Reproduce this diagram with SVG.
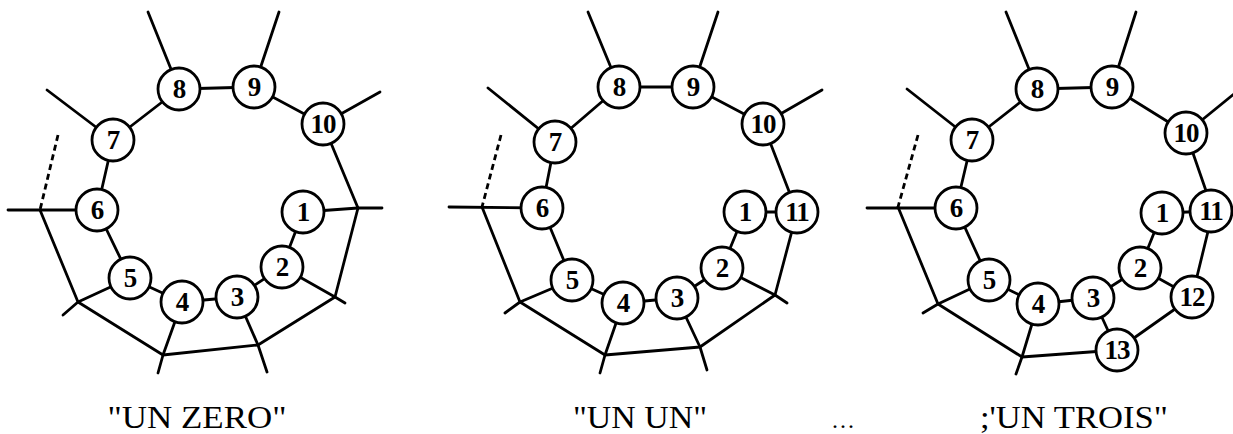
<svg xmlns="http://www.w3.org/2000/svg" width="1233" height="434" viewBox="0 0 1233 434">
<style>
.e{stroke:#000;stroke-width:2.8;fill:none;stroke-linecap:round;stroke-linejoin:round}
.d{stroke:#000;stroke-width:2.8;fill:none;stroke-dasharray:6 4}
.n circle{fill:#fff;stroke:#000;stroke-width:2.8}
.n text{font-family:"Liberation Serif","Times New Roman",serif;font-weight:bold;font-size:27px;text-anchor:middle;letter-spacing:-1px}
.cap{font-family:"Liberation Serif","Times New Roman",serif;font-size:31px;text-anchor:middle}
</style>
<rect width="1233" height="434" fill="#fff"/>

<!-- Diagram 1 connectors -->
<g id="connectors-1">
<polyline class="e" points="97,210 113,140 179,89 254,87 323,124 358,208 382,208"/>
<line class="e" x1="303" y1="212" x2="358" y2="208"/>
<polyline class="e" points="97,210 130,278 182,302 237,297 282,267 303,212"/>
<line class="e" x1="179" y1="89" x2="148" y2="12"/>
<line class="e" x1="254" y1="87" x2="279" y2="12"/>
<line class="e" x1="113" y1="140" x2="47" y2="90"/>
<line class="e" x1="323" y1="124" x2="380" y2="92"/>
<line class="e" x1="8" y1="210" x2="97" y2="210"/>
<line class="d" x1="58" y1="135" x2="40" y2="210"/>
<polyline class="e" points="40,210 78,302 163,355 258,345 335,297 358,208"/>
<polyline class="e" points="63,315 78,302 130,278"/>
<polyline class="e" points="158,373 163,355 182,302"/>
<polyline class="e" points="267,372 258,345 237,297"/>
<polyline class="e" points="345,303 335,297 282,267"/>
</g>
<g id="d1-n1" class="n"><circle cx="303" cy="212" r="21"/><text x="303" y="221">1</text></g>
<g id="d1-n2" class="n"><circle cx="282" cy="267" r="21"/><text x="282" y="276">2</text></g>
<g id="d1-n3" class="n"><circle cx="237" cy="297" r="21"/><text x="237" y="306">3</text></g>
<g id="d1-n4" class="n"><circle cx="182" cy="302" r="21"/><text x="182" y="311">4</text></g>
<g id="d1-n5" class="n"><circle cx="130" cy="278" r="21"/><text x="130" y="287">5</text></g>
<g id="d1-n6" class="n"><circle cx="97" cy="210" r="21"/><text x="97" y="219">6</text></g>
<g id="d1-n7" class="n"><circle cx="113" cy="140" r="21"/><text x="113" y="149">7</text></g>
<g id="d1-n8" class="n"><circle cx="179" cy="89" r="21"/><text x="179" y="98">8</text></g>
<g id="d1-n9" class="n"><circle cx="254" cy="87" r="21"/><text x="254" y="96">9</text></g>
<g id="d1-n10" class="n"><circle cx="323" cy="124" r="21"/><text x="323" y="133">10</text></g>
<text class="cap" x="197" y="428" textLength="179" lengthAdjust="spacingAndGlyphs">"UN ZERO"</text>

<!-- Diagram 2 connectors -->
<g id="connectors-2">
<polyline class="e" points="542,208 555,142 619,87 693,87 763,124 797,212"/>
<line class="e" x1="745" y1="212" x2="797" y2="212"/>
<polyline class="e" points="542,208 572,280 623,303 677,298 722,268 745,212"/>
<line class="e" x1="619" y1="87" x2="588" y2="12"/>
<line class="e" x1="693" y1="87" x2="718" y2="12"/>
<line class="e" x1="555" y1="142" x2="488" y2="88"/>
<line class="e" x1="763" y1="124" x2="822" y2="90"/>
<line class="e" x1="449" y1="207" x2="542" y2="208"/>
<line class="d" x1="501" y1="135" x2="482" y2="207"/>
<polyline class="e" points="482,207 520,302 605,355 700,347 775,295 797,212"/>
<polyline class="e" points="505,313 520,302 572,280"/>
<polyline class="e" points="600,373 605,355 623,303"/>
<polyline class="e" points="707,370 700,347 677,298"/>
<polyline class="e" points="787,303 775,295 722,268"/>
</g>
<g id="d2-n1" class="n"><circle cx="745" cy="212" r="21"/><text x="745" y="221">1</text></g>
<g id="d2-n2" class="n"><circle cx="722" cy="268" r="21"/><text x="722" y="277">2</text></g>
<g id="d2-n3" class="n"><circle cx="677" cy="298" r="21"/><text x="677" y="307">3</text></g>
<g id="d2-n4" class="n"><circle cx="623" cy="303" r="21"/><text x="623" y="312">4</text></g>
<g id="d2-n5" class="n"><circle cx="572" cy="280" r="21"/><text x="572" y="289">5</text></g>
<g id="d2-n6" class="n"><circle cx="542" cy="208" r="21"/><text x="542" y="217">6</text></g>
<g id="d2-n7" class="n"><circle cx="555" cy="142" r="21"/><text x="555" y="151">7</text></g>
<g id="d2-n8" class="n"><circle cx="619" cy="87" r="21"/><text x="619" y="96">8</text></g>
<g id="d2-n9" class="n"><circle cx="693" cy="87" r="21"/><text x="693" y="96">9</text></g>
<g id="d2-n10" class="n"><circle cx="763" cy="124" r="21"/><text x="763" y="133">10</text></g>
<g id="d2-n11" class="n"><circle cx="797" cy="212" r="21"/><text x="797" y="221">11</text></g>
<text class="cap" x="640" y="428" textLength="134" lengthAdjust="spacingAndGlyphs">"UN UN"</text>

<text x="844" y="428" font-family="Liberation Serif, serif" font-size="24" text-anchor="middle" letter-spacing="2">...</text>

<!-- Diagram 3 connectors -->
<g id="connectors-3">
<polyline class="e" points="956,208 972,140 1037,89 1112,87 1186,133 1213,211 1192,297 1140,268"/>
<line class="e" x1="1162" y1="213" x2="1213" y2="211"/>
<polyline class="e" points="956,208 989,280 1038,304 1093,298 1140,268 1162,213"/>
<polyline class="e" points="1192,297 1117,350 1093,298"/>
<line class="e" x1="1037" y1="89" x2="1006" y2="12"/>
<line class="e" x1="1112" y1="87" x2="1136" y2="12"/>
<line class="e" x1="972" y1="140" x2="907" y2="89"/>
<line class="e" x1="1186" y1="133" x2="1240" y2="89"/>
<line class="e" x1="867" y1="208" x2="956" y2="208"/>
<line class="d" x1="918" y1="135" x2="898" y2="207"/>
<polyline class="e" points="898,207 938,304 1022,357 1117,350"/>
<polyline class="e" points="923,313 938,304 989,280"/>
<polyline class="e" points="1016,374 1022,357 1038,304"/>
</g>
<g id="d3-n1" class="n"><circle cx="1162" cy="213" r="21"/><text x="1162" y="222">1</text></g>
<g id="d3-n2" class="n"><circle cx="1140" cy="268" r="21"/><text x="1140" y="277">2</text></g>
<g id="d3-n3" class="n"><circle cx="1093" cy="298" r="21"/><text x="1093" y="307">3</text></g>
<g id="d3-n4" class="n"><circle cx="1038" cy="304" r="21"/><text x="1038" y="313">4</text></g>
<g id="d3-n5" class="n"><circle cx="989" cy="280" r="21"/><text x="989" y="289">5</text></g>
<g id="d3-n6" class="n"><circle cx="956" cy="208" r="21"/><text x="956" y="217">6</text></g>
<g id="d3-n7" class="n"><circle cx="972" cy="140" r="21"/><text x="972" y="149">7</text></g>
<g id="d3-n8" class="n"><circle cx="1037" cy="89" r="21"/><text x="1037" y="98">8</text></g>
<g id="d3-n9" class="n"><circle cx="1112" cy="87" r="21"/><text x="1112" y="96">9</text></g>
<g id="d3-n10" class="n"><circle cx="1186" cy="133" r="21"/><text x="1186" y="142">10</text></g>
<g id="d3-n11" class="n"><circle cx="1211" cy="211" r="21"/><text x="1211" y="220">11</text></g>
<g id="d3-n12" class="n"><circle cx="1192" cy="297" r="21"/><text x="1192" y="306">12</text></g>
<g id="d3-n13" class="n"><circle cx="1117" cy="350" r="21"/><text x="1117" y="359">13</text></g>
<text class="cap" x="1074" y="428" textLength="188" lengthAdjust="spacingAndGlyphs">;'UN TROIS"</text>
</svg>
